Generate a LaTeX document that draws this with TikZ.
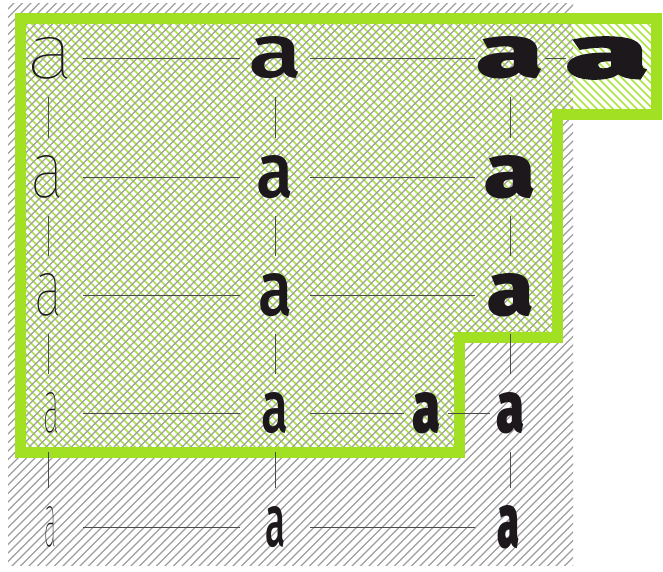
\documentclass[tikz,border=0pt]{standalone}
\usepackage{fontspec}
\setmainfont{Fira Sans}
\IfFontExistsTF{Fira Sans Thin}{\newfontfamily\fthin{Fira Sans Thin}}{%
  \IfFontExistsTF{Fira Sans Light}{\newfontfamily\fthin{Fira Sans Light}}{\newfontfamily\fthin{Fira Sans}}}
\IfFontExistsTF{Fira Sans Medium}{\newfontfamily\fmed{Fira Sans Medium}}{\newfontfamily\fmed[FakeBold=1]{Fira Sans}}
\IfFontExistsTF{Fira Sans Black}{\newfontfamily\fblk{Fira Sans Black}\newfontfamily\fxblk[FakeBold=1.5]{Fira Sans Black}}{%
  \IfFontExistsTF{Fira Sans Heavy}{\newfontfamily\fblk{Fira Sans Heavy}\newfontfamily\fxblk[FakeBold=1.5]{Fira Sans Heavy}}{%
  \newfontfamily\fblk[FakeBold=3]{Fira Sans}\newfontfamily\fxblk[FakeBold=4.5]{Fira Sans}}}
\definecolor{gborder}{RGB}{162,224,36}
\definecolor{ghatch}{RGB}{172,228,70}
\definecolor{khatch}{RGB}{158,158,158}
\definecolor{conn}{RGB}{75,75,75}
\definecolor{ink}{RGB}{28,24,28}
\newcommand\gA[3]{\resizebox{#2pt}{#3pt}{\fontsize{40}{40}\selectfont#1{}a}}
\begin{document}
\begin{tikzpicture}[x=1pt,y=-1pt,
  gl/.style={minimum width=70pt,minimum height=77pt,inner sep=0pt,text=ink},
  link/.style={draw=conn,line width=1pt}]
\useasboundingbox (0,0) rectangle (663,571);
\fill[white] (0,0) rectangle (663,571);
% green hatch inside the region
\begin{scope}
  \clip (20.5,18.5) -- (656.5,18.5) -- (656.5,114) -- (557.5,114) -- (557.5,337)
        -- (459,337) -- (459,452.5) -- (20.5,452.5) -- cycle;
  \foreach \c in {-600,-592,...,680} \draw[ghatch,line width=1.6pt] (\c,0) -- ++(600,600);
\end{scope}
% grey hatch
\begin{scope}
  \clip (8,3) rectangle (573,565);
  \foreach \c in {0,8.5,...,1250} \draw[khatch,line width=1.3pt] (\c,0) -- ++(-600,600);
\end{scope}
% green border
\draw[gborder,line width=11pt,line join=miter]
  (20.5,18.5) -- (656.5,18.5) -- (656.5,114) -- (557.5,114) -- (557.5,337)
  -- (459,337) -- (459,452.5) -- (20.5,452.5) -- cycle;
% glyphs
\node[gl] (a11) at (48,58)  {\hspace{6pt}\gA{\fthin}{48}{41}};
\node[gl] (a12) at (275,58) {\gA{\fmed}{54}{41}};
\node[gl] (a13) at (510,58) {\gA{\fblk}{67}{41}};
\node[gl,minimum width=40pt] (a14) at (607,58) {\gA{\fxblk}{82}{41}};
\node[gl] (a21) at (48,177)  {\gA{\fthin}{34}{42}};
\node[gl] (a22) at (275,177) {\gA{\fmed}{37}{42}};
\node[gl] (a23) at (510,177) {\gA{\fblk}{51}{42}};
\node[gl] (a31) at (48,295)  {\gA{\fthin}{28}{42}};
\node[gl] (a32) at (275,295) {\gA{\fmed}{34}{42}};
\node[gl] (a33) at (510,295) {\gA{\fblk}{46}{42}};
\node[gl] (a41) at (48,413)  {\hspace{6pt}\gA{\fthin}{16}{40}};
\node[gl] (a42) at (275,413) {\gA{\fmed}{27}{40}};
\node[gl,minimum width=44pt] (a4s) at (426,413) {\gA{\fblk}{28}{40}};
\node[gl,minimum width=40pt] (a43) at (510,413) {\gA{\fblk}{28}{40}};
\node[gl] (a51) at (48,527)  {\hspace{4pt}\gA{\fthin}{12}{40}};
\node[gl] (a52) at (275,527) {\gA{\fmed}{20}{40}};
\node[gl] (a53) at (510,527) {\hspace{-4pt}\gA{\fblk}{22}{42}};
% horizontal connectors
\draw[link] (a11.east) -- (a12.west);
\draw[link] (a12.east) -- (a13.west);
\draw[link] (a13.east) -- (a14.west);
\draw[link] (a21.east) -- (a22.west);
\draw[link] (a22.east) -- (a23.west);
\draw[link] (a31.east) -- (a32.west);
\draw[link] (a32.east) -- (a33.west);
\draw[link] (a41.east) -- (a42.west);
\draw[link] (a42.east) -- (a4s.west);
\draw[link] (a4s.east) -- (a43.west);
\draw[link] (a51.east) -- (a52.west);
\draw[link] (a52.east) -- (a53.west);
% vertical connectors
\foreach \col in {1,2,3} {
  \draw[link] (a1\col.south) -- (a2\col.north);
  \draw[link] (a2\col.south) -- (a3\col.north);
  \draw[link] (a3\col.south) -- (a4\col.north);
  \draw[link] (a4\col.south) -- (a5\col.north);
}
\end{tikzpicture}
\end{document}
